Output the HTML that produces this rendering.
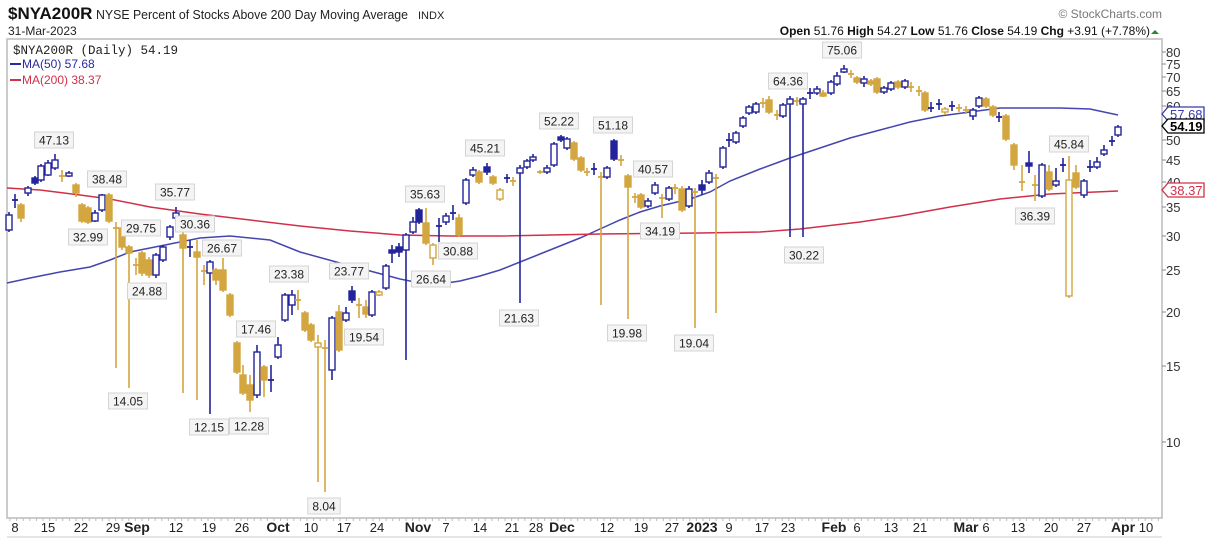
<!DOCTYPE html>
<html><head><meta charset="utf-8"><style>
body{margin:0;background:#fff;width:1206px;height:542px;overflow:hidden;font-family:"Liberation Sans",sans-serif}
</style></head><body>
<svg id="s" width="1206" height="542" xmlns="http://www.w3.org/2000/svg" font-family="Liberation Sans, sans-serif">
<rect x="0" y="0" width="1206" height="542" fill="#fff"/>
<text x="8" y="19" font-size="17" font-weight="bold" fill="#111">$NYA200R</text>
<text x="96" y="19" font-size="13" fill="#222" textLength="312" lengthAdjust="spacingAndGlyphs">NYSE Percent of Stocks Above 200 Day Moving Average</text>
<text x="418" y="19" font-size="11" fill="#222">INDX</text>
<text x="8" y="35" font-size="12" fill="#222">31-Mar-2023</text>
<text x="1162" y="18" font-size="12" fill="#777" text-anchor="end">© StockCharts.com</text>
<text x="1150" y="35" font-size="12" fill="#111" text-anchor="end"><tspan font-weight="bold">Open</tspan> 51.76  <tspan font-weight="bold">High</tspan> 54.27  <tspan font-weight="bold">Low</tspan> 51.76  <tspan font-weight="bold">Close</tspan> 54.19  <tspan font-weight="bold">Chg</tspan> +3.91 (+7.78%)</text>
<polygon points="1151,34 1159,34 1155,30" fill="#2a8a2a"/>
<rect x="7" y="39" width="1155" height="479" fill="none" stroke="#bbb" stroke-width="1.5"/>
<line x1="7" y1="537" x2="1162" y2="537" stroke="#ccc"/>
<g id="g"></g>
<text x="13" y="54" font-size="12.5" font-family="Liberation Mono, monospace" fill="#222">$NYA200R (Daily) 54.19</text>
<line x1="10" y1="64" x2="21" y2="64" stroke="#2a2aa0" stroke-width="2"/>
<text x="22" y="68" font-size="12" fill="#2a2aa0">MA(50) 57.68</text>
<line x1="10" y1="80" x2="21" y2="80" stroke="#d0304a" stroke-width="2"/>
<text x="22" y="84" font-size="12" fill="#d0304a">MA(200) 38.37</text>
</svg>
<script>
var g=document.getElementById('g'),ns='http://www.w3.org/2000/svg';
function el(t,a,txt){var e=document.createElementNS(ns,t);for(var k in a)e.setAttribute(k,a[k]);if(txt!=null)e.textContent=txt;g.appendChild(e);return e;}
var GOLD='#d4a640',BLUE='#23239a';
[[80,52],[75,64],[70,77],[65,91],[60,106],[55,124],[50,140],[45,160],[40,182],[35,207],[30,236],[25,270],[20,312],[15,366],[10,442]].forEach(function(t){
 el('line',{x1:1162,y1:t[1],x2:1166,y2:t[1],stroke:'#888'});
 el('text',{x:1166,y:t[1]+5,'font-size':13,fill:'#333'},t[0]);
});
var xl=[[15,'8'],[48,'15'],[81,'22'],[113,'29'],[137,'Sep',1],[176,'12'],[209,'19'],[242,'26'],[278,'Oct',1],[311,'10'],[344,'17'],[377,'24'],[418,'Nov',1],[446,'7'],[480,'14'],[512,'21'],[536,'28'],[562,'Dec',1],[607,'12'],[641,'19'],[672,'27'],[702,'2023',1],[729,'9'],[762,'17'],[788,'23'],[834,'Feb',1],[857,'6'],[891,'13'],[920,'21'],[966,'Mar',1],[986,'6'],[1018,'13'],[1051,'20'],[1084,'27'],[1123,'Apr',1],[1146,'10']];
xl.forEach(function(l){el('text',{x:l[0],y:532,'font-size':l[2]?14:13,'font-weight':l[2]?'bold':'normal',fill:'#222','text-anchor':'middle'},l[1]);});
for(var x=10;x<1162;x+=6.6){el('line',{x1:x,y1:518,x2:x,y2:521,stroke:'#bbb'});}
function pl(p,c){el('polyline',{points:p.map(function(a){return a.join(',')}).join(' '),fill:'none',stroke:c,'stroke-width':1.5});}
pl([[7,283],[30,278],[60,272],[90,267],[110,260],[130,252],[160,246],[200,238],[230,236],[270,240],[300,252],[340,263],[370,271],[400,279],[420,283],[440,284],[460,281],[480,276],[500,270],[520,262],[540,254],[560,246],[580,238],[600,229],[620,220],[640,212],[660,206],[690,199],[710,192],[730,181],[760,169],[790,158],[820,148],[850,138],[880,130],[910,122],[940,116],[970,112],[1000,108],[1030,108],[1060,108],[1090,109],[1118,115]],'#4545b0');
pl([[7,188],[40,190],[80,195],[110,199],[150,207],[200,214],[250,220],[300,226],[350,231],[400,235],[450,236],[500,236],[600,234],[700,233],[760,232],[800,229],[860,222],[900,216],[950,207],[1000,199],[1050,194],[1118,191]],'#d0304a');
var C=[[9,212,232,215,230,'b'],[15,194,208,200,200,'c'],[21,203,222,205,218,'g'],[28,186,196,188,193,'b'],[35,176,185,178,183,'B'],[41,164,182,166,180,'b'],[48,160,176,163,175,'b'],[55,154,170,160,168,'b'],[62,170,182,176,176,'d'],[69,171,177,173,176,'b'],[76,183,197,185,193,'g'],[82,203,223,205,221,'g'],[88,206,224,208,222,'g'],[95,210,222,213,221,'b'],[102,194,212,195,210,'b'],[109,193,223,195,221,'g'],[116,222,368,228,228,'d'],[122,226,250,228,247,'g'],[129,245,388,247,253,'g'],[136,258,275,265,265,'d'],[142,251,276,253,273,'g'],[149,257,278,260,275,'g'],[156,253,278,255,275,'b'],[163,245,262,247,260,'b'],[170,225,240,227,237,'b'],[176,207,220,213,218,'b'],[183,232,393,235,248,'g'],[190,240,257,247,247,'c'],[197,240,400,252,257,'g'],[204,265,285,271,271,'d'],[210,260,414,262,273,'b'],[216,268,285,270,280,'g'],[223,258,292,270,290,'g'],[230,293,317,295,315,'g'],[237,341,374,343,372,'g'],[243,365,395,375,393,'g'],[250,375,412,385,400,'g'],[257,345,398,352,395,'b'],[264,365,397,367,380,'g'],[271,365,392,380,380,'c'],[278,337,359,345,357,'b'],[285,293,322,295,320,'b'],[292,290,315,295,305,'b'],[298,290,310,300,300,'d'],[305,311,332,313,330,'g'],[311,323,342,325,340,'g'],[318,335,482,343,347,'h'],[325,340,492,348,348,'d'],[332,316,380,318,370,'b'],[339,305,352,312,350,'g'],[346,307,322,313,320,'b'],[352,286,303,291,300,'B'],[359,298,318,305,305,'d'],[366,300,318,307,314,'g'],[372,290,317,292,315,'b'],[379,290,296,292,295,'h'],[386,264,290,266,288,'b'],[392,245,263,250,253,'B'],[399,243,257,247,252,'B'],[406,233,360,235,250,'b'],[413,217,234,222,232,'b'],[419,208,224,210,222,'B'],[426,208,245,223,243,'g'],[433,243,265,245,258,'h'],[439,218,242,226,226,'c'],[446,213,225,216,222,'b'],[453,205,220,213,213,'c'],[459,214,237,218,235,'g'],[466,178,205,180,203,'b'],[473,167,177,170,175,'b'],[479,170,184,172,182,'g'],[487,163,175,167,172,'B'],[493,175,185,177,183,'g'],[500,188,201,190,199,'h'],[507,174,183,178,178,'c'],[513,177,186,181,181,'d'],[520,165,303,168,173,'b'],[527,159,169,161,167,'b'],[533,154,162,157,160,'b'],[540,170,174,172,172,'d'],[547,165,174,168,172,'b'],[554,142,167,144,165,'b'],[561,135,142,137,140,'B'],[567,137,150,139,148,'b'],[574,141,161,143,159,'g'],[581,156,172,158,170,'g'],[587,168,176,172,172,'d'],[594,163,175,169,169,'c'],[601,172,305,177,177,'d'],[607,166,179,168,177,'b'],[614,139,161,141,159,'B'],[621,155,166,160,160,'d'],[628,174,319,176,187,'g'],[635,193,203,197,197,'d'],[641,193,209,195,207,'g'],[648,198,208,201,206,'b'],[655,182,195,185,193,'b'],[662,194,218,198,198,'d'],[669,186,201,188,199,'b'],[675,184,194,188,188,'d'],[682,186,212,189,210,'g'],[689,186,208,189,206,'b'],[695,188,328,192,192,'d'],[702,180,195,185,190,'B'],[709,170,184,173,182,'b'],[716,174,313,178,178,'d'],[723,146,169,148,167,'b'],[729,133,147,140,140,'c'],[736,131,144,133,142,'b'],[743,116,128,118,126,'b'],[749,105,115,107,113,'b'],[756,102,114,104,112,'b'],[763,98,108,103,103,'d'],[769,96,114,100,112,'g'],[777,110,120,115,115,'d'],[783,103,118,105,116,'b'],[790,96,237,99,104,'b'],[797,97,106,101,101,'d'],[803,97,237,99,104,'b'],[810,88,99,93,93,'c'],[817,86,95,89,93,'b'],[823,90,97,93,95,'g'],[831,80,95,82,93,'b'],[837,72,86,76,84,'b'],[844,65,73,69,71,'b'],[851,70,78,74,74,'d'],[857,76,84,78,82,'g'],[864,76,87,79,83,'b'],[871,79,86,81,84,'g'],[877,77,94,79,92,'g'],[884,86,94,88,92,'b'],[891,81,91,83,89,'b'],[898,80,89,82,87,'g'],[905,79,89,81,87,'b'],[911,82,92,87,87,'d'],[919,86,96,91,91,'d'],[925,91,112,93,110,'g'],[931,102,112,108,108,'c'],[939,99,110,104,104,'c'],[945,107,115,109,112,'h'],[952,101,111,106,106,'c'],[959,104,112,108,108,'d'],[966,106,114,110,110,'d'],[973,108,120,110,116,'b'],[979,96,108,98,106,'b'],[986,97,108,99,106,'g'],[993,105,117,107,115,'g'],[999,112,122,117,117,'c'],[1006,114,141,116,139,'g'],[1014,143,170,145,165,'g'],[1022,165,191,182,182,'d'],[1029,151,173,163,166,'B'],[1035,175,201,185,185,'d'],[1042,163,198,165,196,'b'],[1049,165,191,172,189,'g'],[1056,168,187,181,185,'b'],[1063,158,172,165,165,'c'],[1069,156,298,180,296,'h'],[1076,165,189,173,187,'g'],[1084,179,198,181,195,'b'],[1090,160,172,167,167,'c'],[1097,157,169,162,167,'b'],[1104,145,156,150,154,'b'],[1112,136,146,141,141,'c'],[1118,125,137,127,135,'b']];
C.forEach(function(c){
 var x=c[0],t=c[5],col=(t=='g'||t=='h'||t=='d')?GOLD:BLUE;
 el('line',{x1:x,y1:c[1],x2:x,y2:c[2],stroke:col,'stroke-width':1.6});
 if(t=='c'||t=='d'){el('line',{x1:x-3,y1:c[3],x2:x+3,y2:c[3],stroke:col,'stroke-width':1.8});}
 else{var h=Math.max(c[4]-c[3],3);var fill=(t=='B'||t=='g')?col:'#fff';
  el('rect',{x:x-3,y:c[3],width:6,height:h,fill:fill,stroke:col,'stroke-width':1.4});}
});
var L=[['47.13',54,140],['38.48',107,179],['32.99',88,237],['35.77',175,192],['29.75',141,228],['30.36',195,224],['24.88',147,291],['14.05',128,401],['26.67',222,248],['12.15',209,427],['12.28',249,426],['17.46',256,329],['23.38',289,274],['23.77',349,271],['19.54',364,337],['8.04',324,506],['35.63',425,194],['30.88',458,251],['26.64',431,279],['45.21',485,148],['21.63',519,318],['52.22',559,121],['51.18',613,125],['19.98',627,333],['40.57',653,169],['34.19',660,231],['19.04',694,343],['64.36',788,81],['30.22',804,255],['75.06',842,50],['45.84',1069,144],['36.39',1035,216]];
L.forEach(function(l){var w=l[0].length*6.6+6;
 el('rect',{x:l[1]-w/2,y:l[2]-8,width:w,height:16,fill:'#f4f4f4',stroke:'#d4d4d4'});
 el('text',{x:l[1],y:l[2]+4.5,'font-size':12,fill:'#222','text-anchor':'middle'},l[0]);});
function tag(y,txt,col,bold){el('polygon',{points:'1162,'+y+' 1168,'+(y-7)+' 1204,'+(y-7)+' 1204,'+(y+7)+' 1168,'+(y+7),fill:'#fff',stroke:col,'stroke-width':1.3});
 el('text',{x:1170,y:y+5,'font-size':13,'font-weight':bold?'bold':'normal',fill:bold?'#000':col},txt);}
tag(114,'57.68','#3a3aaa',0);tag(126,'54.19','#000',1);tag(190,'38.37','#d0304a',0);
</script>
</body></html>
